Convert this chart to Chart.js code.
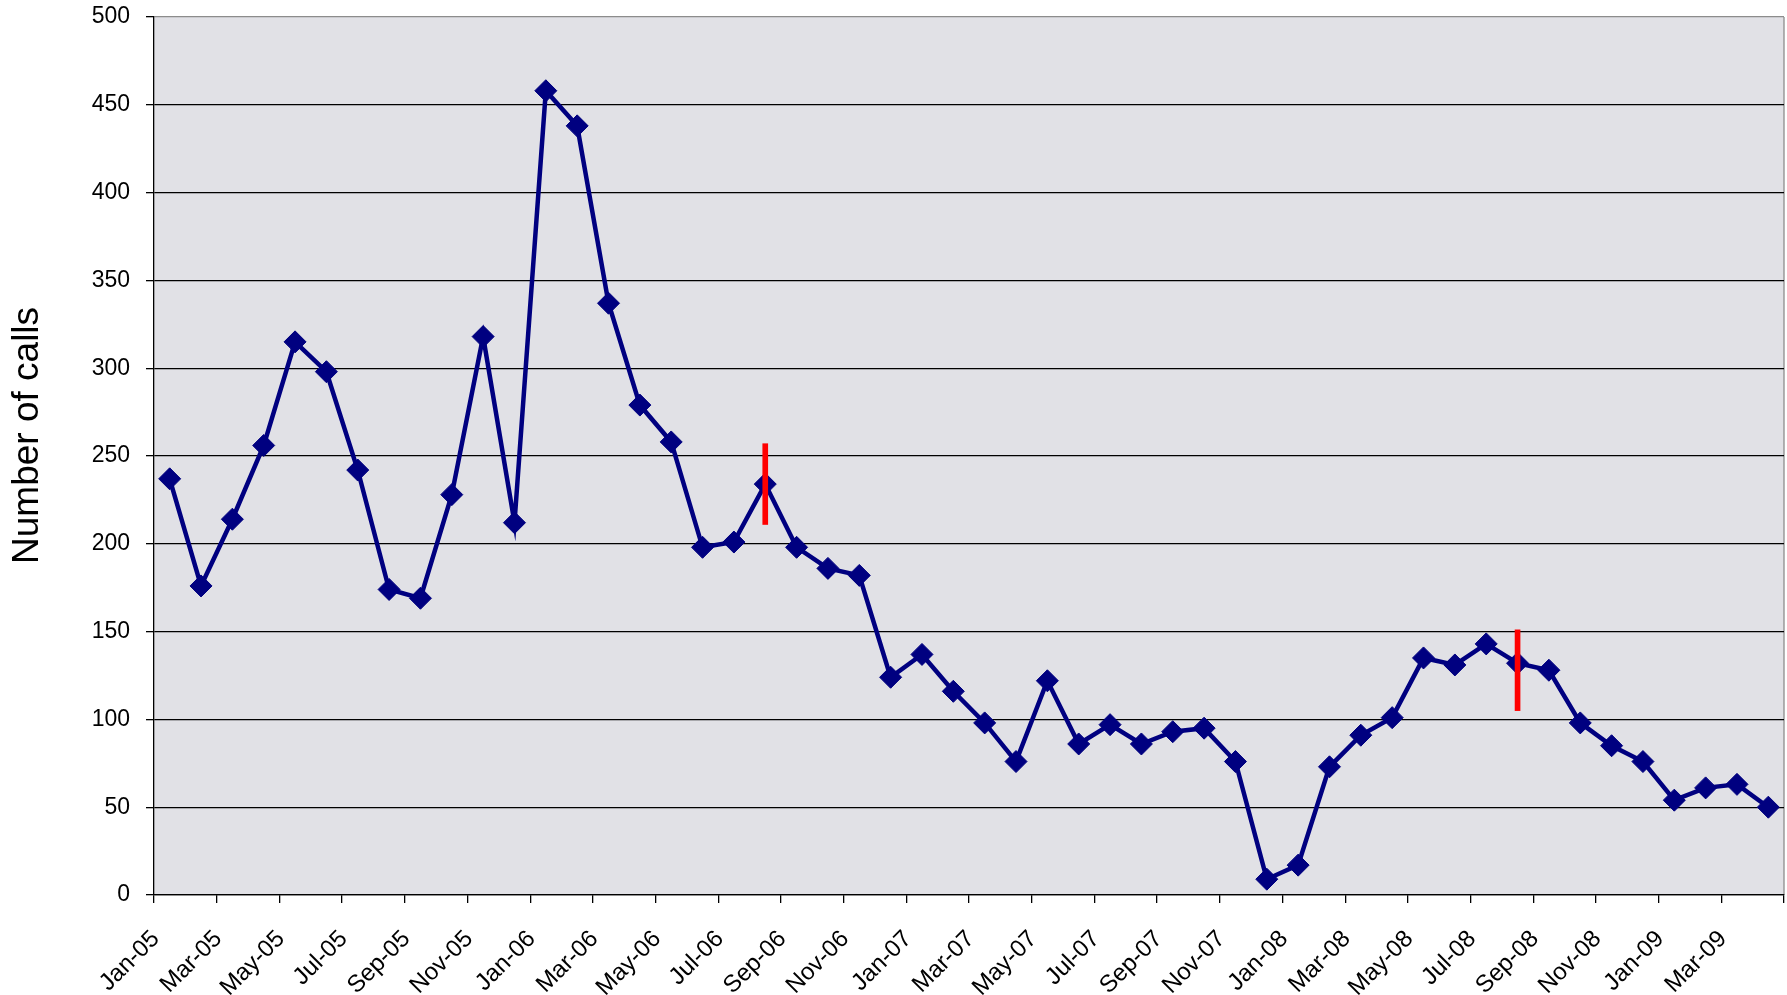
<!DOCTYPE html>
<html>
<head>
<meta charset="utf-8">
<title>Number of calls</title>
<script src="https://cdn.jsdelivr.net/npm/chart.js@4.4.0/dist/chart.umd.min.js"></script>
<style>
  html, body { margin: 0; padding: 0; background: #fff; }
  #wrap { width: 1787px; height: 995px; position: relative; }
</style>
</head>
<body>
<div id="wrap"><canvas id="calls-chart"></canvas></div>
<script>
const months = [
  'Jan-05', 'Feb-05', 'Mar-05', 'Apr-05', 'May-05', 'Jun-05', 'Jul-05', 'Aug-05', 'Sep-05', 'Oct-05', 'Nov-05', 'Dec-05',
  'Jan-06', 'Feb-06', 'Mar-06', 'Apr-06', 'May-06', 'Jun-06', 'Jul-06', 'Aug-06', 'Sep-06', 'Oct-06', 'Nov-06', 'Dec-06',
  'Jan-07', 'Feb-07', 'Mar-07', 'Apr-07', 'May-07', 'Jun-07', 'Jul-07', 'Aug-07', 'Sep-07', 'Oct-07', 'Nov-07', 'Dec-07',
  'Jan-08', 'Feb-08', 'Mar-08', 'Apr-08', 'May-08', 'Jun-08', 'Jul-08', 'Aug-08', 'Sep-08', 'Oct-08', 'Nov-08', 'Dec-08',
  'Jan-09', 'Feb-09', 'Mar-09', 'Apr-09'
];
const calls = [
  237, 176, 214, 256, 315, 298, 242, 174, 169, 228, 318, 212,
  458, 438, 337, 279, 258, 198, 201, 234, 198, 186, 182, 124,
  137, 116, 98, 76, 122, 86, 97, 86, 93, 95, 76, 9,
  17, 73, 91, 101, 135, 131, 143, 132, 128, 98, 85, 76,
  54, 61, 63, 50
];
const yTickValues = [0, 50, 100, 150, 200, 250, 300, 350, 400, 450, 500];

// red vertical markers
const markMonths = ['Aug-06', 'Aug-08'];
const markRanges = [[211, 257], [105, 151]];

const markData = months.map(m => {
  const i = markMonths.indexOf(m);
  return i >= 0 ? markRanges[i] : null;
});

const font = 'Liberation Sans, Arial, sans-serif';

const plotFrame = {
  id: 'plotFrame',
  beforeDraw(chart) {
    const { ctx, chartArea: a } = chart;
    ctx.save();
    ctx.fillStyle = '#e1e1e6';
    ctx.fillRect(a.left, a.top, a.right - a.left, a.bottom - a.top);
    ctx.strokeStyle = '#8c8c8c';
    ctx.lineWidth = 1.3;
    ctx.beginPath();
    ctx.moveTo(a.right, a.top);
    ctx.lineTo(a.right, a.bottom);
    ctx.stroke();
    ctx.restore();
  }
};

const everyOther = ctx => (ctx.index === undefined || ctx.index % 2 === 0) ? '#000' : 'rgba(0,0,0,0)';

new Chart(document.getElementById('calls-chart'), {
  type: 'line',
  data: {
    labels: months,
    datasets: [{
      type: 'bar',
      data: markData,
      backgroundColor: '#ff0000',
      barThickness: 5,
      order: 0
    }, {
      data: calls,
      borderColor: '#000080',
      borderWidth: 4.5,
      pointStyle: 'rectRot',
      pointRadius: 11,
      pointBackgroundColor: '#000080',
      pointBorderColor: '#000080',
      pointBorderWidth: 1,
      tension: 0,
      order: 1
    }]
  },
  options: {
    responsive: true,
    maintainAspectRatio: false,
    animation: false,
    layout: {
      autoPadding: false,
      padding: { top: 17, right: 3, left: 0, bottom: 0 }
    },
    plugins: {
      legend: { display: false },
      tooltip: { enabled: false }
    },
    scales: {
      x: {
        type: 'category',
        offset: true,
        grid: {
          offset: true,
          drawOnChartArea: false,
          drawTicks: true,
          tickLength: 8,
          color: everyOther,
          tickColor: everyOther,
          lineWidth: 1.3
        },
        border: { color: '#000', width: 1.3 },
        ticks: {
          autoSkip: false,
          minRotation: 45,
          maxRotation: 45,
          labelOffset: -14,
          padding: 22,
          color: '#000',
          font: { family: font, size: 24 },
          callback: function (val, index) {
            return index % 2 === 0 ? this.getLabelForValue(val) : '';
          }
        },
        afterFit(scale) {
          scale.height = 100;
          scale.paddingLeft = 0;
          scale.paddingRight = 0;
        }
      },
      y: {
        min: 0,
        max: 500,
        afterBuildTicks(scale) {
          scale.ticks = yTickValues.map(v => ({ value: v }));
        },
        grid: {
          color: ctx => (ctx.tick && ctx.tick.value === 500) ? '#8c8c8c' : '#000',
          tickColor: '#000',
          tickLength: 8,
          lineWidth: 1.3
        },
        border: { color: '#000', width: 1.3 },
        ticks: {
          padding: 16,
          color: '#000',
          font: { family: font, size: 23 }
        },
        title: {
          display: true,
          text: '    Number of calls',
          color: '#000',
          font: { family: font, size: 37 },
          padding: { top: 6, bottom: 0 }
        },
        afterFit(scale) {
          scale.width = 154;
          scale.paddingTop = 0;
          scale.paddingBottom = 0;
        }
      }
    }
  },
  plugins: [plotFrame]
});
</script>
</body>
</html>
